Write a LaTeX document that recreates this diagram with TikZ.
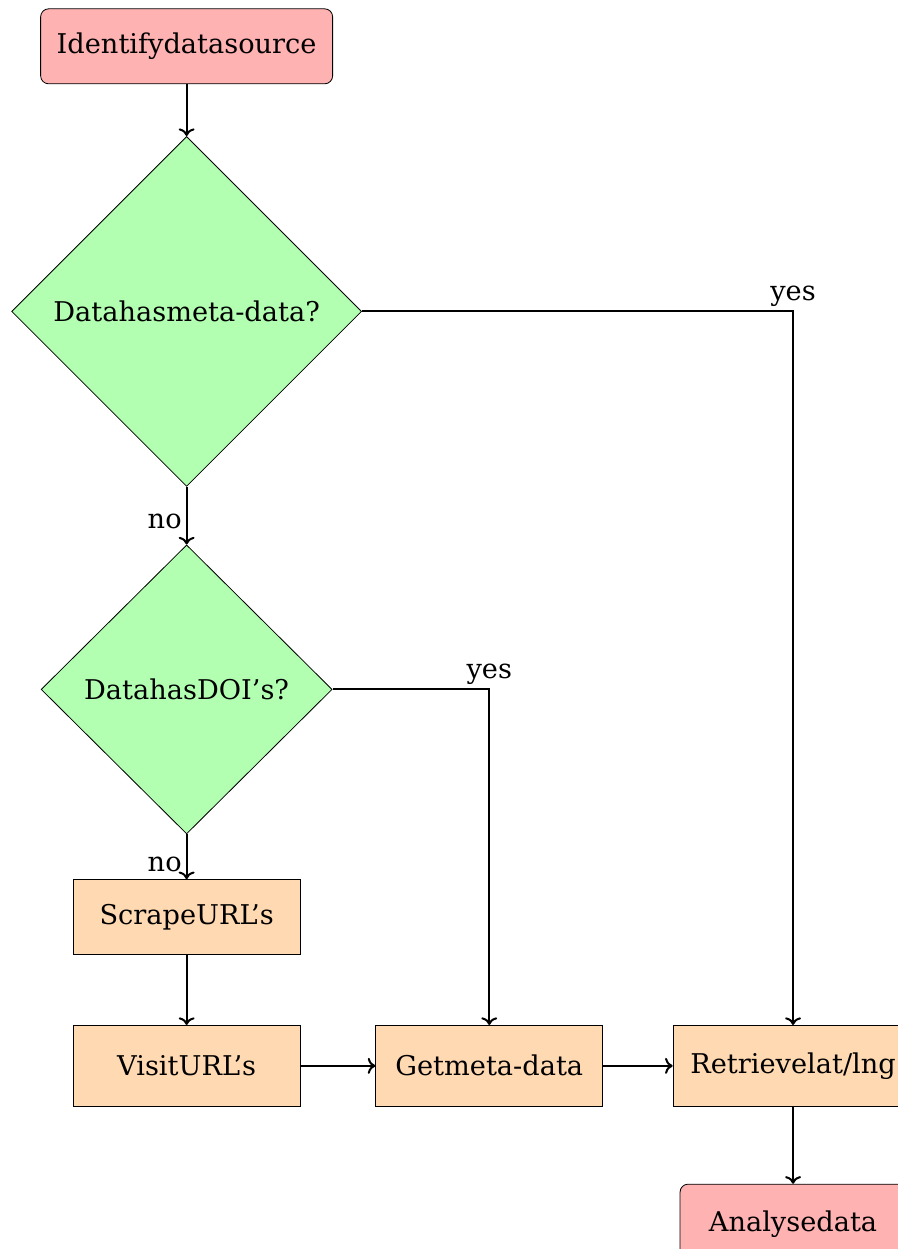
\documentclass[tikz,border=0pt]{standalone}
\usepackage{fontspec}
\setmainfont{DejaVu Serif}
\usepackage{tikz}
\usetikzlibrary{shapes.geometric, arrows.meta, arrows,positioning}
\tikzstyle{startstop}=[rectangle, draw=black, rounded corners,
    fill=red!30, align=center, inner sep=2pt,
    minimum width=146pt, minimum height=37.5pt]
\tikzstyle{process}=[rectangle, draw=black,
    fill=orange!30, align=center, inner sep=2pt,
    minimum width=113.5pt, minimum height=40.5pt]
\tikzstyle{decision}=[diamond, draw=black, fill=green!30,
    aspect=1, inner sep=0pt]
\tikzstyle{line}=[draw, line width=1pt, ->]

\begin{document}
\begin{tikzpicture}
      [auto,
      font=\fontsize{13.6pt}{16pt}\selectfont,
      label/.style={inner sep=2pt}]

      \useasboundingbox (0,0) rectangle (449pt,-624.5pt);
      \clip (0,0) rectangle (449pt,-624.5pt);

      \matrix [matrix anchor=north west, inner sep=0pt,
               column sep=0pt, row sep=0pt] at (5.5pt,-4pt)
      {
        \node [startstop] (ident) {Identifydatasource}; \\[26pt]
        \node [decision, minimum width=175pt, minimum height=175pt] (meta) {Datahasmeta-data?}; \\[29pt]
        \node [decision, minimum width=145.5pt, minimum height=144.5pt] (doi) {DatahasDOI’s?}; \\[22.5pt]
        \node [process, minimum height=37.5pt] (scrape) {ScrapeURL’s}; \\[35pt]
        \node [process] (visit) {VisitURL’s}; &[6.75pt]
        \node [process] (getmeta) {Getmeta-data}; &[34.75pt]
        \node [process, minimum width=120pt] (retrieve) {Retrievelat/lng}; \\[38.5pt]
        & & \node [startstop, minimum width=113pt, minimum height=40pt] (analyse) {Analysedata}; \\
      };
      \begin{scope}[every path/.style=line]
        \path (ident) -- (meta);
        \path (meta) -- node [label, left, pos=0.6] {no} (doi);
        \path (meta) -| node [label, above, pos=0.5] {yes} (retrieve);
        \path (doi) -- node [label, left, pos=0.67] {no} (scrape);
        \path (doi) -| node [label, above, pos=0.5] {yes} (getmeta);
        \path (scrape) -- (visit);
        \path (visit) -- (getmeta);
        \path (getmeta) -- (retrieve);
        \path (retrieve) -- (analyse);
      \end{scope}

      \end{tikzpicture}
\end{document}
